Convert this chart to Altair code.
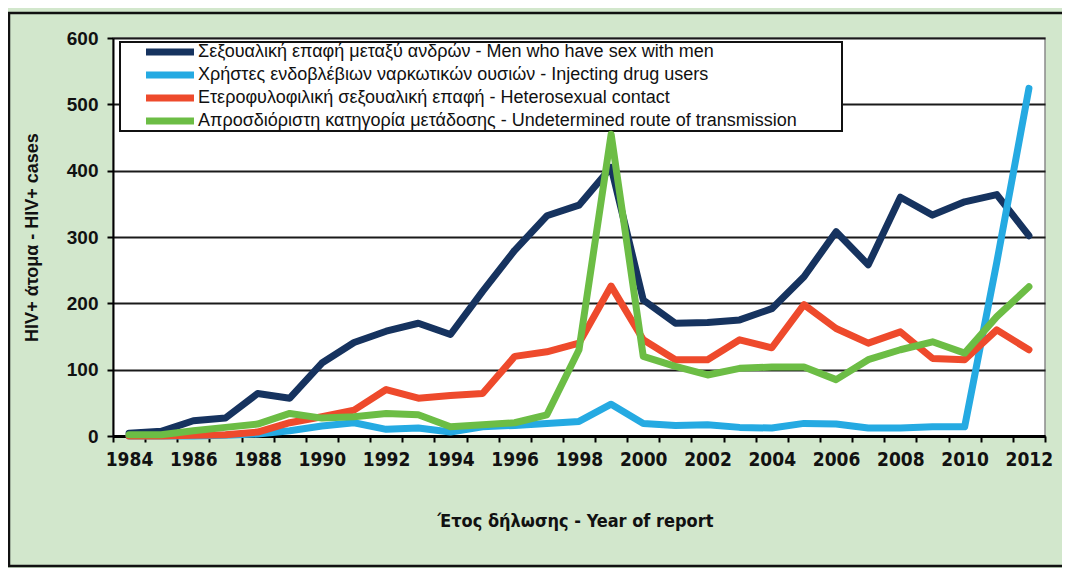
import altair as alt
import pandas as pd

years = list(range(1984, 2013))

series_names = [
    "Σεξουαλική επαφή μεταξύ ανδρών - Men who have sex with men",
    "Χρήστες ενδοβλέβιων ναρκωτικών ουσιών - Injecting drug users",
    "Ετεροφυλοφιλική σεξουαλική επαφή - Heterosexual contact",
    "Απροσδιόριστη κατηγορία μετάδοσης - Undetermined route of transmission",
]
series_colors = ["#16335f", "#25aae2", "#ee4a2c", "#6cbd45"]

msm = [4, 7, 23, 27, 64, 57, 110, 141, 158, 170, 153, 218, 280, 332, 348, 405,
       205, 170, 171, 175, 192, 240, 308, 258, 360, 333, 353, 364, 302]
idu = [0, 0, 0, 1, 3, 8, 15, 20, 10, 12, 6, 14, 16, 19, 22, 48,
       19, 16, 17, 13, 12, 19, 18, 12, 12, 14, 14, 262, 524]
het = [0, 0, 1, 2, 6, 20, 29, 39, 70, 57, 61, 64, 120, 127, 140, 226,
       145, 115, 115, 145, 133, 198, 162, 140, 157, 117, 115, 160, 130]
und = [2, 2, 8, 13, 18, 34, 27, 29, 34, 32, 14, 17, 20, 32, 130, 455,
       120, 105, 92, 102, 104, 104, 85, 115, 130, 142, 125, 180, 225]

rows = []
for name, vals in zip(series_names, [msm, idu, het, und]):
    for y, v in zip(years, vals):
        rows.append({"year": y, "cases": v, "series": name})
df = pd.DataFrame(rows)

y_ticks = [0, 100, 200, 300, 400, 500, 600]
x_tick_bounds = [y - 0.5 for y in years] + [years[-1] + 0.5]

bold_font = "Liberation Sans"
narrow_font = "Liberation Sans Narrow, DejaVu Sans Condensed, Liberation Sans"

lines = alt.Chart(df).mark_line(strokeWidth=7, strokeJoin="round", strokeCap="round").encode(
    x=alt.X(
        "year:Q",
        scale=alt.Scale(domain=[1983.5, 2012.5], nice=False, zero=False),
        axis=alt.Axis(
            values=x_tick_bounds,
            labelExpr="(datum.value + 0.5) % 2 == 0 && datum.value < 2012 ? format(datum.value + 0.5, 'd') : ''",
            labelOffset=16,
            labelOverlap=False,
            labelFlush=False,
            labelFont=narrow_font,
            labelFontWeight="bold",
            labelFontSize=19,
            labelColor="#111111",
            labelPadding=8,
            domainColor="#000000",
            domainWidth=3,
            tickColor="#000000",
            tickWidth=2,
            tickSize=6,
            grid=False,
            title="Έτος δήλωσης - Year of report",
            titleFont=narrow_font,
            titleFontWeight="bold",
            titleFontSize=18,
            titleColor="#111111",
            titleX=462,
            titleY=85,
            titleBaseline="middle",
        ),
    ),
    y=alt.Y(
        "cases:Q",
        scale=alt.Scale(domain=[0, 600], nice=False),
        axis=alt.Axis(
            values=y_ticks,
            format="d",
            labelFont=bold_font,
            labelFontWeight="bold",
            labelFontSize=19,
            labelColor="#111111",
            labelPadding=9,
            domainColor="#000000",
            domainWidth=2,
            tickColor="#000000",
            tickWidth=2,
            tickSize=6,
            grid=True,
            gridColor="#1a1a1a",
            gridWidth=2,
            title="HIV+ άτομα - HIV+ cases",
            titleFont=bold_font,
            titleFontWeight="bold",
            titleFontSize=18,
            titleColor="#111111",
            titleX=-81,
            titleY=199,
            titleAngle=270,
            titleBaseline="middle",
        ),
    ),
    color=alt.Color(
        "series:N",
        scale=alt.Scale(domain=series_names, range=series_colors),
        legend=alt.Legend(
            orient="none",
            legendX=48,
            legendY=5,
            title=None,
            symbolType="M-7,0L7,0",
            symbolStrokeWidth=7,
            symbolSize=47,
            labelFont=bold_font,
            labelFontSize=18,
            labelColor="#111111",
            labelOffset=19,
            labelLimit=0,
            rowPadding=-6,
            padding=0,
        ),
    ),
    order=alt.Order("year:Q"),
)

one = pd.DataFrame({"k": [0]})

legend_box = alt.Chart(one).mark_rect(fill="#ffffff", stroke="#111111", strokeWidth=2).encode(
    x=alt.value(7), x2=alt.value(729), y=alt.value(4), y2=alt.value(93)
)

frame = alt.Chart(one).mark_rect(fillOpacity=0, stroke="#111111", strokeWidth=2.5).encode(
    x=alt.value(-104), x2=alt.value(1100), y=alt.value(-25), y2=alt.value(528)
)

chart = alt.layer(legend_box, lines, frame).properties(
    width=932,
    height=398,
    autosize=alt.AutoSizeParams(type="none"),
    padding={"left": 105, "top": 30, "right": 17, "bottom": 132},
    background="#d2e7cc",
).configure_view(
    fill="#ffffff", stroke="#8a8a8a", strokeWidth=1.5
)

chart.save("out.html", embed_options={"renderer": "svg", "actions": False})
